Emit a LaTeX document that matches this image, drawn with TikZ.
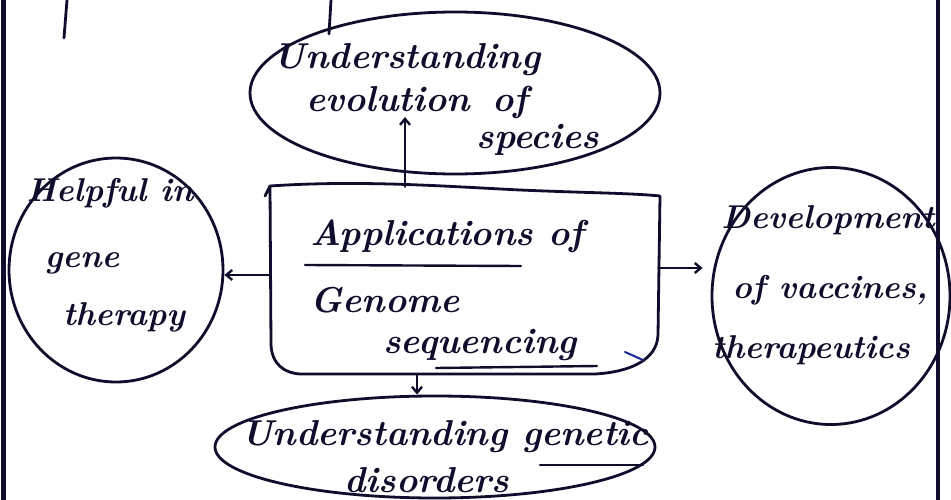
\documentclass[tikz,border=0pt]{standalone}
\usepackage{fontspec}
\usetikzlibrary{shapes.geometric,arrows.meta}
\definecolor{ink}{RGB}{14,14,44}
\definecolor{penblue}{RGB}{30,40,150}
\tikzset{
  stroke/.style={draw=ink,line width=2.8pt,line cap=round,line join=round},
  bubble/.style={ellipse,draw=ink,line width=2.8pt,inner sep=0pt},
  hw/.style={font=\fontsize{36}{40}\selectfont\bfseries\itshape,text=ink,inner sep=0pt},
  hwsmall/.style={font=\fontsize{33}{37}\selectfont\bfseries\itshape,text=ink,inner sep=0pt},
  arr/.style={stroke,line width=2.4pt,-{Straight Barb[length=6pt,width=10pt]}},
  uline/.style={draw=ink,line width=2.4pt,line cap=round}
}
\begin{document}
\begin{tikzpicture}[x=1pt,y=-1pt]
\useasboundingbox (0,0) rectangle (951,500);

% page frame
\draw[draw=ink,line width=5pt] (3,0) -- (3,500);
\draw[draw=ink,line width=4pt] (938,0) -- (938,500);

% strokes of writing above
\draw[stroke] (67,0) -- (64,38);
\draw[stroke] (331,0) -- (329,34);

% bubbles
\node[bubble,minimum width=410pt,minimum height=162pt] (evo) at (455,93) {};
\node[bubble,minimum width=214pt,minimum height=224pt] (help) at (116,270) {};
\node[bubble,minimum width=238pt,minimum height=257pt] (vac) at (831,296) {};
\node[bubble,minimum width=440pt,minimum height=102pt] (gen) at (435,447) {};

% central box
\node[minimum width=388pt,minimum height=188pt,inner sep=0pt] (box) at (464,281) {};
\draw[stroke] (265,196) -- (270,186)
  .. controls (360,180) and (440,186) .. (520,190)
  .. controls (590,193) and (630,193) .. (660,196)
  -- (658,335) .. controls (657,360) and (630,372) .. (595,374)
  -- (300,374) .. controls (284,373) and (272,364) .. (271,345) -- (270,186);

% texts
\node[hw] (t1) at (407,60) {Understanding};
\node[hw] (t2) at (417,103) {evolution\hspace{22pt}of};
\node[hw] (t3) at (538,140) {species};

\node[hwsmall] (h1) at (110,193) {Helpful in};
\node[hwsmall] (h2) at (82,263) {gene};
\node[hwsmall] (h3) at (124,317) {therapy};

\node[hw] (c1) at (447,236) {Applications of};
\node[hw] (c2) at (385,300) {Genome};
\node[hw] (c3) at (480,345) {sequencing};
\draw[uline] (305,265) -- (521,266);
\draw[uline] (436,368) -- (597,366);

\node[hwsmall] (v1) at (828,220) {Development};
\node[hwsmall] (v2) at (830,290) {of vaccines,};
\node[hwsmall] (v3) at (811,350) {therapeutics};

\node[hw] (g1) at (445,437) {Understanding genetic};
\node[hw] (g2) at (427,480) {disorders};
\draw[uline] (540,465) -- (643,465);

% small pen mark
\draw[draw=penblue,line width=2pt,line cap=round] (625,352) -- (643,360);

% connectors
\draw[arr] ([xshift=-59pt]box.north) -- ([xshift=-50pt,yshift=-24pt]evo.center);
\draw[arr] ([yshift=6pt]box.west) -- ([yshift=6pt]box.west -| help.east);
\draw[arr] ([yshift=13pt]box.east) -- ([yshift=13pt,xshift=-8pt]box.east -| vac.west);
\draw[arr] ([xshift=-47pt]box.south) -- ([xshift=-47pt]box.south |- gen.north);
\end{tikzpicture}
\end{document}
